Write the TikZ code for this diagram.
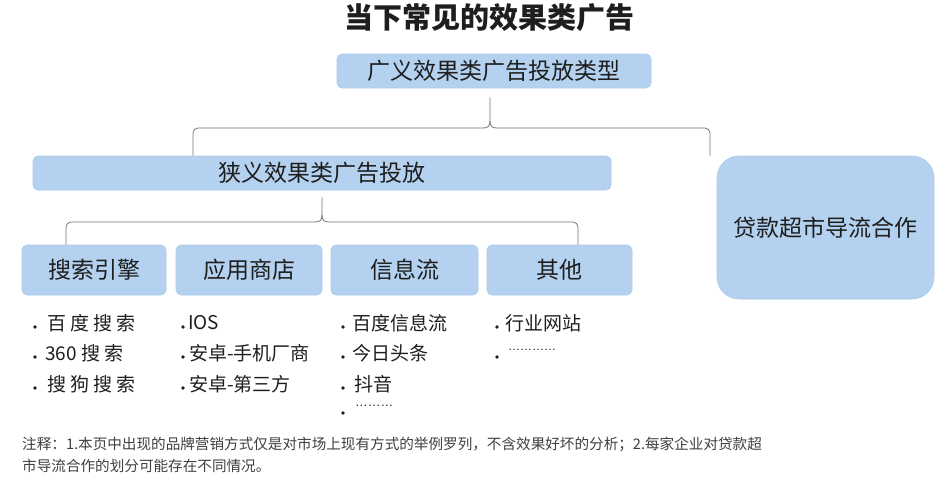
\documentclass[tikz,border=0pt]{standalone}
\usepackage{fontspec}
\setmainfont{Noto Sans CJK SC}
\newfontfamily\dotfont{Liberation Sans}
\definecolor{boxblue}{HTML}{B4D2F0}
\definecolor{boxedge}{HTML}{A9CAEB}
\definecolor{linegray}{HTML}{767676}
\definecolor{txt}{HTML}{1E1E1E}
\newcommand{\fs}[1]{\fontsize{#1pt}{#1pt}\selectfont}
\begin{document}
\begin{tikzpicture}[x=1pt,y=-1pt,
  bluebox/.style={fill=boxblue,draw=boxedge,line width=0.6pt,rounded corners=5pt,inner sep=0pt,text=txt},
  link/.style={draw=linegray,line width=0.8pt},
  item/.style={anchor=west,inner sep=0pt,text=txt,font=\fs{19}},
  dot/.style={fill=txt,draw=none},
  note/.style={anchor=west,inner sep=0pt,text=txt!85,font=\fs{14.6}}]
\useasboundingbox[fill=white] (0,0) rectangle (949,482);

\node[inner sep=0pt,text=txt,font=\bfseries\fs{29}] (title) at (489,18) {当下常见的效果类广告};

\node[bluebox,minimum width=314pt,minimum height=34pt,font=\fs{23}] (box1) at (494,71) {广义效果类广告投放类型};
\node[bluebox,minimum width=578pt,minimum height=34pt,font=\fs{23}] (box2) at (322,173) {狭义效果类广告投放\hspace{34pt}};
\node[bluebox,rounded corners=22pt,minimum width=217pt,minimum height=143pt,font=\fs{23}] (big) at (825.5,227.5) {贷款超市导流合作};

\node[bluebox,minimum width=144pt,minimum height=50pt,font=\fs{23}] (s1) at (94,270) {搜索引擎};
\node[bluebox,minimum width=146pt,minimum height=50pt,font=\fs{23}] (s2) at (249,270) {应用商店};
\node[bluebox,minimum width=147pt,minimum height=50pt,font=\fs{23}] (s3) at (404.5,270) {信息流};
\node[bluebox,minimum width=145pt,minimum height=50pt,font=\fs{23}] (s4) at (559.5,270) {其他};

% bracket 1
\coordinate (t1) at ([yshift=-9pt]box1.south -| 490,0);
\coordinate (l1) at (box2.north -| 193,0);
\coordinate (r1) at (big.north -| 710,0);
\draw[link,rounded corners=5pt] (l1) |- (483,128);
\draw[link] (483,128) .. controls (488,128) and (490,126) .. (490,121) -- (t1);
\draw[link] (497,128) .. controls (492,128) and (490,126) .. (490,121);
\draw[link,rounded corners=5pt] (497,128) -| (r1);

% bracket 2
\coordinate (t2) at ([yshift=-7pt]box2.south -| 322,0);
\coordinate (l2) at (s1.north -| 66,0);
\coordinate (r2) at (s4.north -| 578,0);
\draw[link,rounded corners=5pt] (l2) |- (315,222);
\draw[link] (315,222) .. controls (320,222) and (322,220) .. (322,215) -- (t2);
\draw[link] (329,222) .. controls (324,222) and (322,220) .. (322,215);
\draw[link,rounded corners=5pt] (329,222) -| (r2);

% lists column 1
\fill[dot] (35,327) circle (1.8);
\node[item] (a1) at (47,323) {百 度 搜 索};
\fill[dot] (35,357) circle (1.8);
\node[item] (a2) at (45,353) {360 搜 索};
\fill[dot] (35,388) circle (1.8);
\node[item] (a3) at (47,384) {搜 狗 搜 索};
% column 2
\fill[dot] (183,327) circle (1.8);
\node[item] (b1) at (188,323) {IOS};
\fill[dot] (183,357) circle (1.8);
\node[item] (b2) at (189,353) {安卓-手机厂商};
\fill[dot] (183,388) circle (1.8);
\node[item] (b3) at (189,384) {安卓-第三方};
% column 3
\fill[dot] (343,327) circle (1.8);
\node[item] (c1) at (352,323) {百度信息流};
\fill[dot] (343,357) circle (1.8);
\node[item] (c2) at (352,353) {今日头条};
\fill[dot] (343,388) circle (1.8);
\node[item] (c3) at (354,384) {抖音};
\fill[dot] (343,413) circle (1.8);
\node[item,font=\dotfont\fs{12.7}] (c4) at (355,406) {………};
% column 4
\fill[dot] (497,327) circle (1.8);
\node[item] (d1) at (505,323) {行业网站};
\fill[dot] (497,357) circle (1.8);
\node[item,font=\dotfont\fs{12}] (d2) at (508,350) {…………};

\node[note] (n1) at (22,444) {注释：1.本页中出现的品牌营销方式仅是对市场上现有方式的举例罗列，不含效果好坏的分析；2.每家企业对贷款超};
\node[note] (n2) at (22,466) {市导流合作的划分可能存在不同情况。};
\end{tikzpicture}
\end{document}
